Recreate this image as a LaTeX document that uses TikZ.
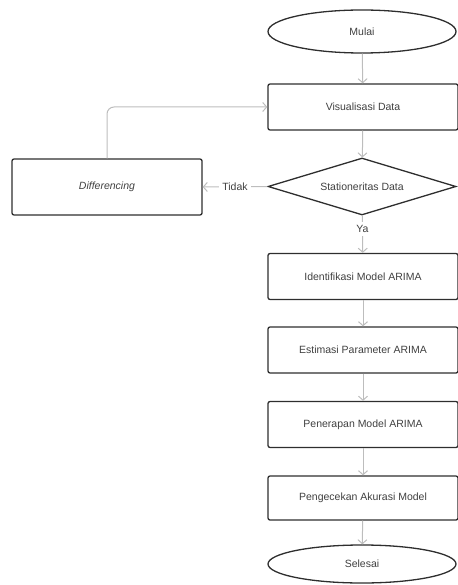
\documentclass[tikz,border=0pt]{standalone}
\usepackage{fontspec}
\setmainfont{Liberation Sans}
\usepackage{xcolor}
\usetikzlibrary{shapes.geometric, arrows.meta, positioning, calc}

\definecolor{boxline}{HTML}{2E2E2E}
\definecolor{arrline}{HTML}{BDBDBD}
\definecolor{txt}{HTML}{404040}

\begin{document}
\begin{tikzpicture}[x=1pt, y=-1pt,
    every node/.style={font=\fontsize{10.5}{12}\selectfont, text=txt},
    proses/.style={draw=boxline, line width=1.3pt, rounded corners=2pt,
      minimum width=190pt, minimum height=46pt, inner sep=0pt},
    terminal/.style={draw=boxline, line width=1.3pt, ellipse,
      minimum width=188pt, minimum height=43pt, inner sep=0pt},
    keputusan/.style={draw=boxline, line width=1.3pt, diamond, aspect=3.3,
      minimum width=188pt, minimum height=57pt, inner sep=0pt},
    arr/.style={draw=arrline, line width=1pt,
      -{Straight Barb[length=4pt, width=9pt]}},
    garis/.style={draw=arrline, line width=1pt},
    lbl/.style={fill=white, inner sep=3pt}]
  \useasboundingbox (0,0) rectangle (457,585);

  % alur utama
  \node[terminal] (mulai) at (362,31.5) {Mulai};
  \node[proses] (visual) at (363,107) {Visualisasi Data};
  \node[keputusan] (stasioner) at (362,186.5) {Stationeritas Data};
  \node[proses, minimum height=56pt] (diff) at (107,187) {\itshape Differencing};
  \node[proses] (ident) at (363,276.5) {Identifikasi Model ARIMA};
  \node[proses] (estim) at (363,350) {Estimasi Parameter ARIMA};
  \node[proses] (terap) at (363,424.5) {Penerapan Model ARIMA};
  \node[proses, minimum height=44pt] (cek) at (363,498) {Pengecekan Akurasi Model};
  \node[terminal, minimum height=38pt] (selesai) at (362,564) {Selesai};

  \draw[arr] (mulai) -- (visual);
  \draw[arr] (visual) -- (stasioner);
  \draw[arr] (stasioner) -- node[lbl, pos=0.36] {Ya} (ident);
  \draw[arr] (stasioner.west) -- node[lbl] {Tidak} (diff.east);
  \draw[arr] (ident) -- (estim);
  \draw[arr] (estim) -- (terap);
  \draw[arr] (terap) -- (cek);
  \draw[arr] (cek) -- (selesai);

  % kembali ke visualisasi
  \draw[arr, rounded corners=7pt] (diff.north) |- (visual.west);
\end{tikzpicture}
\end{document}
